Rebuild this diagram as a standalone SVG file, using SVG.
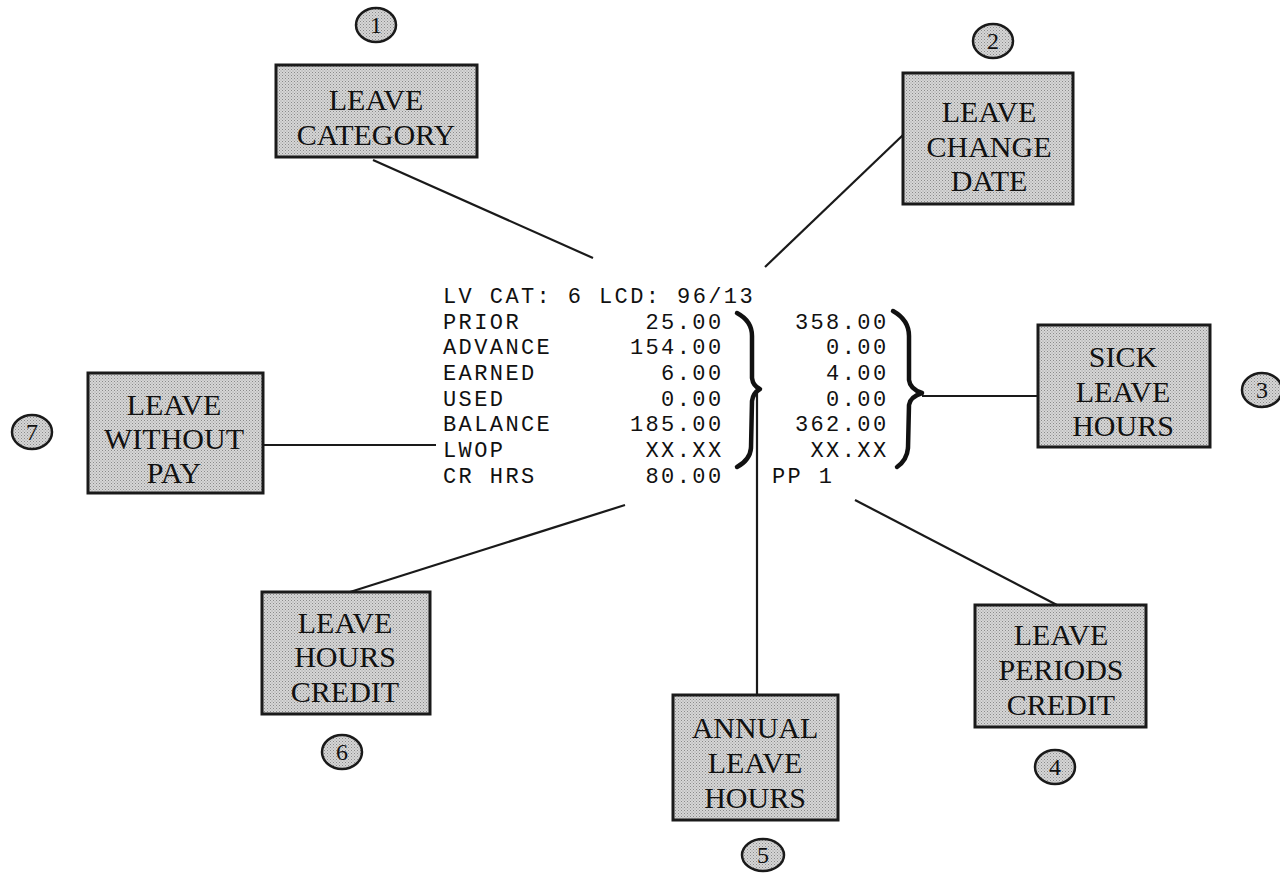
<svg xmlns="http://www.w3.org/2000/svg" width="1280" height="876" viewBox="0 0 1280 876">
<defs>
<pattern id="dots" width="3" height="3" patternUnits="userSpaceOnUse">
<rect width="3" height="3" fill="#d6d6d6"/>
<rect x="0" y="0" width="1" height="1" fill="#8a8a8a"/>
<rect x="1.5" y="1.5" width="1" height="1" fill="#9a9a9a"/>
</pattern>
<style>
.box{fill:url(#dots);stroke:#1a1a1a;stroke-width:3}
.num{fill:url(#dots);stroke:#1a1a1a;stroke-width:2.5}
.lbl{font-family:"Liberation Serif","Times New Roman",serif;font-size:30px;fill:#111;text-anchor:middle}
.nt{font-family:"Liberation Serif","Times New Roman",serif;font-size:24px;fill:#111;text-anchor:middle}
.mono{font-family:"Liberation Mono","Courier New",monospace;font-size:22px;letter-spacing:2.4px;fill:#111}
.r{text-anchor:end}
.conn{stroke:#1a1a1a;stroke-width:2.2;fill:none}
.brace{stroke:#111;stroke-width:4.5;fill:none;stroke-linecap:round;stroke-linejoin:round}
</style>
</defs>
<rect width="1280" height="876" fill="#fff"/>

<g id="connectors">
<line class="conn" x1="373" y1="160" x2="593" y2="258"/>
<line class="conn" x1="765" y1="267" x2="903" y2="135"/>
<line class="conn" x1="922" y1="396" x2="1038" y2="396"/>
<line class="conn" x1="263" y1="445" x2="436" y2="445"/>
<line class="conn" x1="350" y1="592" x2="625" y2="505"/>
<line class="conn" x1="757" y1="390" x2="757" y2="695"/>
<line class="conn" x1="855" y1="500" x2="1057" y2="605"/>
</g>

<g id="readout">
<text class="mono" x="443" y="303" xml:space="preserve">LV CAT: 6 LCD: 96/13</text>
<text class="mono" x="443" y="329">PRIOR</text>
<text class="mono" x="443" y="354">ADVANCE</text>
<text class="mono" x="443" y="380">EARNED</text>
<text class="mono" x="443" y="406">USED</text>
<text class="mono" x="443" y="431">BALANCE</text>
<text class="mono" x="443" y="457">LWOP</text>
<text class="mono" x="443" y="483">CR HRS</text>
<text class="mono r" x="723.5" y="329">25.00</text>
<text class="mono r" x="723.5" y="354">154.00</text>
<text class="mono r" x="723.5" y="380">6.00</text>
<text class="mono r" x="723.5" y="406">0.00</text>
<text class="mono r" x="723.5" y="431">185.00</text>
<text class="mono r" x="723.5" y="457">XX.XX</text>
<text class="mono r" x="723.5" y="483">80.00</text>
<text class="mono r" x="888.5" y="329">358.00</text>
<text class="mono r" x="888.5" y="354">0.00</text>
<text class="mono r" x="888.5" y="380">4.00</text>
<text class="mono r" x="888.5" y="406">0.00</text>
<text class="mono r" x="888.5" y="431">362.00</text>
<text class="mono r" x="888.5" y="457">XX.XX</text>
<text class="mono" x="772" y="483">PP 1</text>
<path class="brace" d="M737,313 Q752,321 752,336 L752,378 Q753,386 760,389 Q753,393 752,401 L751,448 Q750,460 737,467"/>
<path class="brace" d="M893,311 Q909,320 909,336 L909,380 Q910,389 922,393 Q910,397 909,405 L908,448 Q907,460 897,467"/>
</g>

<g id="node1">
<rect class="box" x="276" y="65" width="201" height="92"/>
<text class="lbl" x="376" y="110">LEAVE</text>
<text class="lbl" x="376" y="145">CATEGORY</text>
<ellipse class="num" cx="376" cy="25" rx="20" ry="17"/>
<text class="nt" x="376" y="33">1</text>
</g>

<g id="node2">
<rect class="box" x="903" y="73" width="170" height="131"/>
<text class="lbl" x="989" y="122">LEAVE</text>
<text class="lbl" x="989" y="157">CHANGE</text>
<text class="lbl" x="989" y="191">DATE</text>
<ellipse class="num" cx="993" cy="41" rx="20" ry="17"/>
<text class="nt" x="993" y="49">2</text>
</g>

<g id="node3">
<rect class="box" x="1038" y="325" width="172" height="122"/>
<text class="lbl" x="1123" y="367">SICK</text>
<text class="lbl" x="1123" y="402">LEAVE</text>
<text class="lbl" x="1123" y="436">HOURS</text>
<ellipse class="num" cx="1262" cy="390" rx="20" ry="17"/>
<text class="nt" x="1262" y="398">3</text>
</g>

<g id="node4">
<rect class="box" x="975" y="605" width="171" height="122"/>
<text class="lbl" x="1061" y="645">LEAVE</text>
<text class="lbl" x="1061" y="680">PERIODS</text>
<text class="lbl" x="1061" y="715">CREDIT</text>
<ellipse class="num" cx="1055" cy="767" rx="20" ry="17"/>
<text class="nt" x="1055" y="775">4</text>
</g>

<g id="node5">
<rect class="box" x="673" y="695" width="165" height="125"/>
<text class="lbl" x="755" y="738">ANNUAL</text>
<text class="lbl" x="755" y="773">LEAVE</text>
<text class="lbl" x="755" y="808">HOURS</text>
<ellipse class="num" cx="763" cy="855" rx="21" ry="16"/>
<text class="nt" x="763" y="863">5</text>
</g>

<g id="node6">
<rect class="box" x="262" y="592" width="168" height="122"/>
<text class="lbl" x="345" y="633">LEAVE</text>
<text class="lbl" x="345" y="667">HOURS</text>
<text class="lbl" x="345" y="702">CREDIT</text>
<ellipse class="num" cx="342" cy="752" rx="20" ry="17"/>
<text class="nt" x="342" y="760">6</text>
</g>

<g id="node7">
<rect class="box" x="88" y="373" width="175" height="120"/>
<text class="lbl" x="174" y="415">LEAVE</text>
<text class="lbl" x="174" y="449">WITHOUT</text>
<text class="lbl" x="174" y="483">PAY</text>
<ellipse class="num" cx="32" cy="432" rx="20" ry="17"/>
<text class="nt" x="32" y="440">7</text>
</g>
</svg>
